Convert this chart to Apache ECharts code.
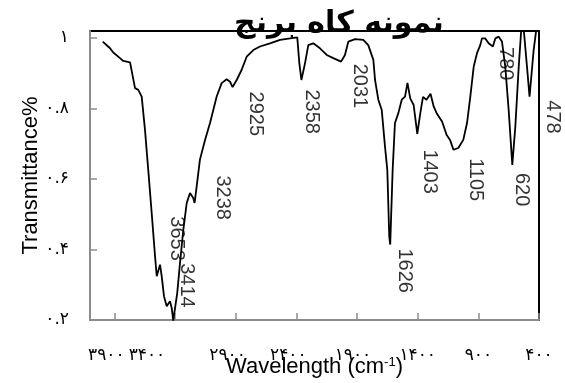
<!DOCTYPE html>
<html>
<head>
<meta charset="utf-8">
<script src="https://cdn.jsdelivr.net/npm/echarts@6/dist/echarts.min.js"></script>
<style>
  html, body { margin: 0; padding: 0; background: #fff; }
  #chart { width: 565px; height: 383px; }
</style>
</head>
<body>
<div id="chart"></div>
<script>
// FTIR spectrum of the rice-straw sample
const wavenumber = [3995, 3935, 3908, 3853, 3826, 3770, 3756, 3729, 3702, 3674, 3647, 3620, 3592, 3564, 3550, 3523, 3509, 3490, 3468, 3441, 3427, 3414, 3381, 3358, 3331, 3303, 3276, 3249, 3238, 3221, 3194, 3152, 3111, 3084, 3056, 3015, 2974, 2946, 2925, 2891, 2850, 2809, 2754, 2699, 2617, 2534, 2452, 2392, 2375, 2358, 2328, 2301, 2260, 2205, 2149, 2095, 2031, 1999, 1971, 1916, 1848, 1807, 1765, 1751, 1724, 1696, 1669, 1650, 1634, 1626, 1606, 1587, 1559, 1531, 1504, 1484, 1461, 1433, 1403, 1378, 1356, 1327, 1294, 1268, 1241, 1199, 1161, 1133, 1105, 1065, 1024, 993, 966, 938, 911, 884, 870, 843, 815, 780, 760, 732, 705, 678, 650, 620, 595, 567, 546, 526, 499, 478, 444, 422, 400];
const transmittance = [0.990, 0.971, 0.959, 0.943, 0.935, 0.931, 0.929, 0.858, 0.853, 0.834, 0.740, 0.626, 0.505, 0.381, 0.324, 0.357, 0.324, 0.267, 0.239, 0.253, 0.235, 0.198, 0.277, 0.363, 0.456, 0.532, 0.560, 0.546, 0.532, 0.579, 0.655, 0.711, 0.759, 0.796, 0.834, 0.872, 0.883, 0.876, 0.861, 0.881, 0.910, 0.947, 0.966, 0.976, 0.985, 0.995, 0.999, 1.002, 0.929, 0.881, 0.929, 0.980, 0.985, 0.971, 0.952, 0.943, 0.933, 0.952, 0.990, 0.997, 0.995, 0.980, 0.938, 0.881, 0.825, 0.796, 0.692, 0.626, 0.437, 0.414, 0.626, 0.759, 0.787, 0.825, 0.834, 0.873, 0.829, 0.810, 0.728, 0.787, 0.833, 0.825, 0.842, 0.806, 0.785, 0.763, 0.725, 0.711, 0.683, 0.688, 0.711, 0.759, 0.834, 0.919, 0.957, 0.980, 0.999, 0.999, 0.985, 0.976, 0.999, 1.004, 0.990, 0.919, 0.796, 0.640, 0.749, 0.919, 1.025, 1.025, 0.919, 0.834, 0.966, 1.025, 1.025];

// Axis ticks and their Persian labels
const xTickValues = [3900, 3400, 2900, 2400, 1900, 1400, 900, 400];
const xTickLabels = ['۳۹۰۰', '۳۴۰۰', '۲۹۰۰', '۲۴۰۰', '۱۹۰۰', '۱۴۰۰', '۹۰۰', '۴۰۰'];
const yTickValues = [0.2, 0.4, 0.6, 0.8, 1];
const yTickLabels = ['۰.۲', '۰.۴', '۰.۶', '۰.۸', '۱'];

// Band annotations: text and where each one sits (wavenumber, transmittance)
const peakNames = ['3653', '3414', '3238', '2925', '2358', '2031', '1626', '1403', '1105', '780', '620', '478'];
const peakLabelX = [3391, 3301, 3012, 2740, 2271, 1883, 1512, 1306, 927, 672, 540, 285];
const peakLabelY = [0.431, 0.298, 0.547, 0.785, 0.791, 0.864, 0.340, 0.621, 0.598, 0.927, 0.570, 0.776];

const AXIS_GRAY = '#8c8c8c';
// leftward nudge (px) of some x tick labels
const xLabelNudge = { 3900: 8, 3400: 28, 2900: 8, 2400: 8, 1900: 4 };

function labelFor(values, labels) {
  return function (v) {
    for (let i = 0; i < values.length; i++) {
      if (Math.abs(values[i] - v) < 1e-6) return labels[i];
    }
    return '';
  };
}

const xLabelText = labelFor(xTickValues, xTickLabels);
const xRich = {};
Object.keys(xLabelNudge).forEach(function (k) {
  xRich['n' + k] = { fontFamily: 'DejaVu Sans', fontSize: 17, color: '#000', padding: [0, xLabelNudge[k] * 2, 0, 0] };
});

const chart = echarts.init(document.getElementById('chart'), null, { renderer: 'canvas' });

chart.setOption({
  animation: false,
  backgroundColor: '#fff',
  title: {
    text: 'نمونه کاه برنج',
    left: 334,
    top: 4,
    textAlign: 'center',
    textStyle: { fontFamily: 'DejaVu Sans', fontWeight: 'bold', fontSize: 30, color: '#000' }
  },
  grid: {
    left: 90, right: 26, top: 31, bottom: 63,
    show: true, borderColor: '#000', borderWidth: 2,
    outerBoundsMode: 'none'
  },
  xAxis: {
    type: 'value',
    inverse: true,
    min: 400,
    max: 4100,
    axisLine: { show: true, lineStyle: { color: AXIS_GRAY, width: 2 } },
    axisTick: { show: true, inside: true, length: 7, customValues: xTickValues, lineStyle: { color: AXIS_GRAY, width: 1.5 } },
    splitLine: { show: false },
    axisLabel: {
      customValues: xTickValues,
      margin: 27,
      fontFamily: 'DejaVu Sans',
      fontSize: 17,
      color: '#000',
      rich: xRich,
      formatter: function (v) {
        const t = xLabelText(v);
        return xLabelNudge[v] ? '{n' + v + '|' + t + '}' : t;
      }
    },
    name: 'Wavelength (cm{sup|-1})',
    nameLocation: 'middle',
    nameGap: 36,
    nameMoveOverlap: false,
    nameTextStyle: {
      fontFamily: 'Liberation Sans',
      fontSize: 22,
      color: '#000',
      rich: { sup: { fontFamily: 'Liberation Sans', fontSize: 13, color: '#000', verticalAlign: 'top', padding: [0, 0, 8, 0] } }
    }
  },
  yAxis: {
    type: 'value',
    min: 0.2,
    max: 1.02,
    axisLine: { show: true, lineStyle: { color: AXIS_GRAY, width: 2 } },
    axisTick: { show: true, inside: true, length: 7, customValues: yTickValues, lineStyle: { color: AXIS_GRAY, width: 1.5 } },
    splitLine: { show: false },
    axisLabel: {
      customValues: yTickValues,
      margin: 21,
      fontFamily: 'DejaVu Sans',
      fontSize: 17,
      color: '#000',
      formatter: labelFor(yTickValues, yTickLabels)
    },
    name: 'Transmittance%',
    nameLocation: 'middle',
    nameGap: 48,
    nameMoveOverlap: false,
    nameTextStyle: { fontFamily: 'Liberation Sans', fontSize: 22, color: '#000' }
  },
  series: [
    {
      type: 'line',
      data: wavenumber.map((w, i) => [w, transmittance[i]]),
      showSymbol: false,
      symbol: 'none',
      smooth: false,
      lineStyle: { color: '#000', width: 1.8 },
      z: 3
    },
    {
      type: 'scatter',
      data: peakNames.map((n, i) => ({ name: n, value: [peakLabelX[i], peakLabelY[i]] })),
      symbolSize: 0,
      clip: false,
      silent: true,
      z: 4,
      label: {
        show: true,
        position: 'inside',
        formatter: '{b}',
        rotate: -90,
        fontFamily: 'Liberation Sans',
        fontSize: 20,
        color: '#000'
      }
    }
  ]
});
</script>
</body>
</html>
